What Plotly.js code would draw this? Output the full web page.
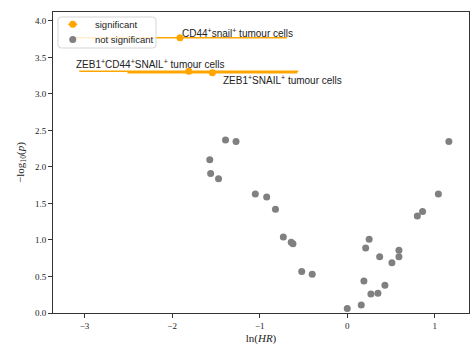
<!DOCTYPE html>
<html>
<head>
<meta charset="utf-8">
<script src="https://cdn.plot.ly/plotly-3.0.1.min.js"></script>
<style>
  html, body { margin: 0; padding: 0; background: #fff; }
  #chart { width: 476px; height: 345px; }
</style>
</head>
<body>
<div id="chart"></div>
<script>
// Hazard-ratio volcano plot: ln(HR) vs -log10(p)

// Non-significant cell populations
const nsLnHR = [-1.57, -1.39, -1.27, -1.56, -1.47, -1.05, -0.92, -0.82, -0.73, -0.64,
                -0.62, -0.52, -0.40, 0.00, 0.16, 0.19, 0.21, 0.25, 0.27, 0.35,
                0.37, 0.43, 0.51, 0.59, 0.59, 0.80, 0.86, 1.04, 1.16];
const nsLogP = [2.10, 2.37, 2.35, 1.91, 1.84, 1.63, 1.59, 1.42, 1.04, 0.97,
                0.95, 0.57, 0.53, 0.06, 0.11, 0.44, 0.89, 1.01, 0.26, 0.27,
                0.77, 0.38, 0.69, 0.86, 0.77, 1.33, 1.39, 1.63, 2.35];

// Significant cell populations with 95% CI on ln(HR)
const sigNames = ['CD44<sup>+</sup>snail<sup>+</sup> tumour cells',
                  'ZEB1<sup>+</sup>CD44<sup>+</sup>SNAIL<sup>+</sup> tumour cells',
                  'ZEB1<sup>+</sup>SNAIL<sup>+</sup> tumour cells'];
const sigLnHR = [-1.91, -1.81, -1.54];
const sigLogP = [3.77, 3.31, 3.29];
const sigCiLow = [-3.13, -3.06, -2.51];
const sigCiHigh = [-0.69, -0.56, -0.57];

const xTicks = [-3, -2, -1, 0, 1];
const yTicks = [0, 0.5, 1, 1.5, 2, 2.5, 3, 3.5, 4];

const legendLabels = ['significant', 'not significant'];

const ORANGE = '#ffa500';
const GREY = '#808080';
const sans = 'Liberation Sans, Arial, sans-serif';
const serif = 'Liberation Serif, Times New Roman, serif';

const traces = [
  {
    x: nsLnHR, y: nsLogP, type: 'scatter', mode: 'markers',
    name: legendLabels[1], showlegend: false,
    marker: { color: GREY, size: 7 },
    hoverinfo: 'skip'
  },
  {
    x: sigLnHR, y: sigLogP, type: 'scatter', mode: 'markers',
    name: legendLabels[0], showlegend: false,
    marker: { color: ORANGE, size: 7 },
    error_x: {
      type: 'data', symmetric: false,
      array: sigLnHR.map((v, i) => sigCiHigh[i] - v),
      arrayminus: sigLnHR.map((v, i) => v - sigCiLow[i]),
      color: ORANGE, thickness: 1.5, width: 0
    },
    hoverinfo: 'skip'
  }
];

// label placement relative to each significant point (pixels)
const labelStyle = [
  { xshift: 0, yshift: -3 },
  { xshift: -115, yshift: -1 },
  { xshift: 9, yshift: -15 }
];

const annotations = sigNames.map((t, i) => ({
  x: sigLnHR[i], y: sigLogP[i], xref: 'x', yref: 'y',
  text: t, showarrow: false,
  xanchor: 'left', yanchor: 'bottom',
  xshift: labelStyle[i].xshift, yshift: labelStyle[i].yshift,
  font: { family: sans, size: 10, color: '#222' }
}));

// Compact legend box in the upper-left corner (paper coordinates)
const lg = { x0: 0.012, x1: 0.2476, y0: 0.8804, y1: 0.9834, rx: 0.008, ry: 0.011 };
const lgSymX = 0.0475, lgTextX = 0.095;
const lgRowY = [0.9589, 0.9090];
const lgColors = [ORANGE, GREY];

const boxPath =
  `M${lg.x0 + lg.rx},${lg.y1} L${lg.x1 - lg.rx},${lg.y1} Q${lg.x1},${lg.y1} ${lg.x1},${lg.y1 - lg.ry} ` +
  `L${lg.x1},${lg.y0 + lg.ry} Q${lg.x1},${lg.y0} ${lg.x1 - lg.rx},${lg.y0} ` +
  `L${lg.x0 + lg.rx},${lg.y0} Q${lg.x0},${lg.y0} ${lg.x0},${lg.y0 + lg.ry} ` +
  `L${lg.x0},${lg.y1 - lg.ry} Q${lg.x0},${lg.y1} ${lg.x0 + lg.rx},${lg.y1} Z`;

const shapes = [
  { type: 'path', xref: 'paper', yref: 'paper', path: boxPath, layer: 'above',
    fillcolor: 'rgba(255,255,255,0.8)', line: { color: '#d6d6d6', width: 1 } },
  // error-bar glyph for the significant entry
  { type: 'line', xref: 'paper', yref: 'paper', layer: 'above',
    xsizemode: 'pixel', xanchor: lgSymX, x0: -4.5, x1: 4.5,
    y0: lgRowY[0], y1: lgRowY[0], line: { color: ORANGE, width: 1.5 } }
];
lgColors.forEach((c, i) => {
  shapes.push({
    type: 'circle', xref: 'paper', yref: 'paper', layer: 'above',
    xsizemode: 'pixel', ysizemode: 'pixel',
    xanchor: lgSymX, yanchor: lgRowY[i],
    x0: -3.5, x1: 3.5, y0: -3.5, y1: 3.5,
    fillcolor: c, line: { width: 0 }
  });
  annotations.push({
    x: lgTextX, y: lgRowY[i], xref: 'paper', yref: 'paper',
    text: legendLabels[i], showarrow: false,
    xanchor: 'left', yanchor: 'middle',
    font: { family: sans, size: 9.5, color: '#222' }
  });
});

const axisCommon = {
  showgrid: false, zeroline: false,
  showline: true, linecolor: '#333', linewidth: 1, mirror: true,
  ticks: 'outside', ticklen: 4, tickwidth: 1, tickcolor: '#333',
  tickfont: { family: serif, size: 9, color: '#222' }
};

const layout = {
  width: 476, height: 345,
  margin: { l: 53, r: 7, t: 12, b: 32 },
  paper_bgcolor: '#fff', plot_bgcolor: '#fff',
  xaxis: Object.assign({}, axisCommon, {
    range: [-3.36, 1.39], tickvals: xTicks,
    title: { text: 'ln(<i>HR</i>)', font: { family: serif, size: 11, color: '#222' }, standoff: 6 }
  }),
  yaxis: Object.assign({}, axisCommon, {
    range: [0, 4.123], tickvals: yTicks, tickformat: '.1f',
    title: { text: '\u2212log<sub>10</sub>(<i>p</i>)', font: { family: serif, size: 11, color: '#222' }, standoff: 8 }
  }),
  annotations: annotations,
  shapes: shapes,
  showlegend: false
};

Plotly.newPlot('chart', traces, layout, { displayModeBar: false, staticPlot: true });
</script>
</body>
</html>
